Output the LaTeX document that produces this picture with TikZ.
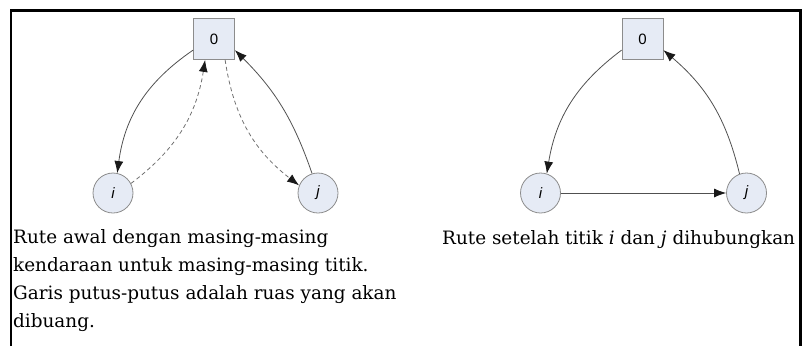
\documentclass[tikz,border=0pt]{standalone}
\usepackage{fontspec}
\setmainfont{DejaVu Serif}
\newfontfamily\labfont{Liberation Sans}
\usetikzlibrary{arrows.meta}
\definecolor{nodefill}{HTML}{E6EBF5}
\definecolor{nodeline}{HTML}{8C8C8C}
\definecolor{edgecol}{HTML}{505050}
\definecolor{dashcol}{HTML}{707070}
\tikzset{
  depot/.style={draw=nodeline, fill=nodefill, line width=0.8pt, minimum width=41pt, minimum height=41pt, inner sep=0pt, font=\labfont\fontsize{15}{15}\selectfont},
  cust/.style={draw=nodeline, fill=nodefill, circle, line width=0.8pt, minimum size=40pt, inner sep=0pt, font=\labfont\itshape\fontsize{15}{15}\selectfont},
  solidedge/.style={draw=edgecol, line width=0.8pt, -{Latex[length=12pt,width=9pt,color=black!90]}},
  dashedge/.style={draw=dashcol, line width=0.8pt, dash pattern=on 4pt off 3pt, -{Latex[length=12pt,width=9pt,color=black!90]}},
  captext/.style={inner sep=0pt, font=\fontsize{18.4}{28}\selectfont, text=black},
  framestyle/.style={line width=2.4pt, black}
}
\begin{document}
\begin{tikzpicture}[x=1pt,y=-1pt]
\useasboundingbox (0,0) rectangle (805,346);
\draw[framestyle] (11,346) -- (11,10.5) -- (800.5,10.5) -- (800.5,346);
% left diagram
\node[depot] (L0) at (214,39) {0};
\node[cust] (Li) at (113,193) {i};
\node[cust] (Lj) at (318,193) {j};
\draw[solidedge] (L0.208) to[bend right=24] (Li.78);
\draw[dashedge] (Li.28) to[bend right=22] (L0.247);
\draw[dashedge] (L0.298) to[bend right=22] (Lj.158);
\draw[solidedge] (Lj.107) to[bend right=13] (L0.332);
% right diagram
\node[depot] (R0) at (642.5,39) {0};
\node[cust] (Ri) at (540.5,193) {i};
\node[cust] (Rj) at (746.5,193) {j};
\draw[solidedge] (R0.208) to[bend right=22] (Ri.72);
\draw[solidedge] (Ri) -- (Rj);
\draw[solidedge] (Rj.110) to[bend right=18] (R0.332);
% captions
\node[captext, anchor=north west, align=left] (capL) at (13,229.8) {Rute awal dengan masing-masing\\kendaraan untuk masing-masing titik.\\Garis putus-putus adalah ruas yang akan\\dibuang.};
\node[captext, anchor=base west] (capR) at (442,244) {Rute setelah titik \textit{i} dan \textit{j} dihubungkan};
\end{tikzpicture}
\end{document}
